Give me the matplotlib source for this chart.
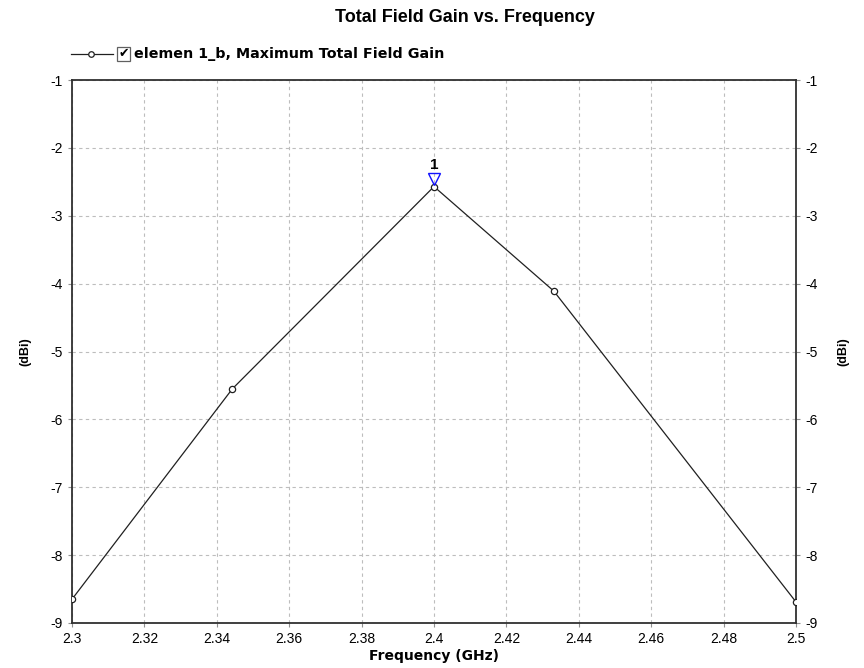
import matplotlib
matplotlib.use("Agg")
import matplotlib.pyplot as plt
from matplotlib.lines import Line2D
from matplotlib.patches import Rectangle

freq = [2.3, 2.3443, 2.4, 2.4331, 2.5]
gain = [-8.65, -5.55, -2.57, -4.11, -8.69]
xticks = [2.3, 2.32, 2.34, 2.36, 2.38, 2.4, 2.42, 2.44, 2.46, 2.48, 2.5]
xticklabels = ["2.3", "2.32", "2.34", "2.36", "2.38", "2.4", "2.42", "2.44", "2.46", "2.48", "2.5"]
yticks = [-1, -2, -3, -4, -5, -6, -7, -8, -9]
marker_x = 2.4
marker_y = -2.57
marker_label = "1"
series_name = "elemen 1_b, Maximum Total Field Gain"

plt.rcParams['font.family'] = ['Liberation Sans', 'DejaVu Sans']

fig = plt.figure(figsize=(8.64, 6.68), dpi=100)
ax = fig.add_axes([72/864, 1-623/668, (796-72)/864, (623-80)/668])

ax.plot(freq, gain, color='#202020', lw=0.9, marker='o', ms=4.5,
        mfc='white', mec='#202020', mew=0.9, zorder=3)

# marker triangle
ax.plot([marker_x], [marker_y + 0.11], marker='v', ms=8, mfc='none', mec='#1010ff', mew=1.0, zorder=4)
ax.text(marker_x, marker_y + 0.22, marker_label, ha='center', va='bottom', fontsize=11, fontweight='bold')

ax.set_xlim(2.3, 2.5)
ax.set_ylim(-9, -1)
ax.set_xticks(xticks)
ax.set_xticklabels(xticklabels)
ax.set_yticks(yticks)
ax.yaxis.set_major_formatter(matplotlib.ticker.FuncFormatter(lambda v, p: "%d" % v))
ax.grid(True, ls=(0, (3, 3)), color='#bdbdbd', lw=0.8)
ax.tick_params(axis='both', labelsize=10, length=3, color='#909090', direction='out')
ax.tick_params(axis='y', right=True, labelright=True)
ax.set_xlabel("Frequency (GHz)", fontsize=10, fontweight='bold', labelpad=2, family='DejaVu Sans')
ax.set_ylabel("(dBi)", fontsize=9, fontweight='bold', labelpad=14)
axr = ax.secondary_yaxis('right')
axr.set_yticks([])
axr.set_ylabel("(dBi)", fontsize=9, fontweight='bold', labelpad=30)
axr.spines['right'].set_visible(False)
for s in ax.spines.values():
    s.set_color('#303030')
    s.set_linewidth(1.3)

fig.text(465/864, 1-18/668, "Total Field Gain vs. Frequency", ha='center', va='center',
         fontsize=13, fontweight='bold')

# legend
ly = 1 - 54/668
fig.add_artist(Line2D([71/864, 113/864], [ly, ly], color='#202020', lw=0.9, transform=fig.transFigure))
fig.add_artist(Line2D([91/864], [ly], marker='o', ms=4, mfc='white', mec='#202020', mew=0.9,
                      transform=fig.transFigure))
fig.add_artist(Rectangle((117/864, ly - 7/668), 13/864, 14/668, fill=False, ec='#606060', lw=0.9,
                         transform=fig.transFigure))
fig.text(123.5/864, ly, "\u2714", ha='center', va='center', fontsize=9, family='DejaVu Sans')
fig.text(134/864, ly, series_name, ha='left', va='center', fontsize=10.3, fontweight='bold',
         family='DejaVu Sans')

fig.savefig("out.png", dpi=100, facecolor='white')
